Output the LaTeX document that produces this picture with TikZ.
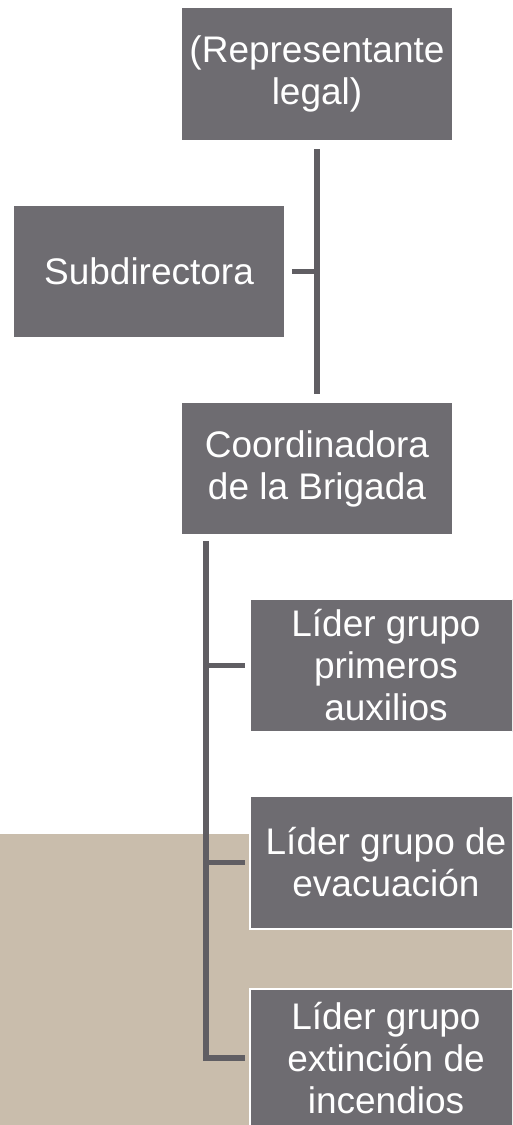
\documentclass[tikz,border=0pt]{standalone}
\usepackage{fontspec}
\setmainfont{Liberation Sans}
\definecolor{boxgray}{RGB}{110,108,113}
\definecolor{linegray}{RGB}{96,94,99}
\definecolor{beigebg}{RGB}{201,189,172}
\begin{document}
\begin{tikzpicture}[x=1pt,y=-1pt,
  orgbox/.style={rectangle, fill=boxgray, draw=white, line width=1.5pt,
    minimum width=272pt, minimum height=133pt, inner sep=0pt,
    align=center, text=white, font=\fontsize{37}{42}\selectfont},
  conn/.style={draw=linegray, line width=5.5pt}]
\useasboundingbox (0,0) rectangle (512,1125);
\clip (0,0) rectangle (512,1125);
\fill[beigebg] (0,834) rectangle (512,1125);

\node[orgbox] (rep) at (317,74) {(Representante\\legal)};
\node[orgbox] (sub) at (149,271.5) {Subdirectora};
\node[orgbox] (coord) at (317,468.5) {Coordinadora\\de la Brigada};
\node[orgbox] (aux) at (386,665.5) {Líder grupo\\primeros\\auxilios};
\node[orgbox] (evac) at (386,862.5) {Líder grupo de\\evacuación};
\node[orgbox, minimum height=138pt] (ext) at (386,1058) {Líder grupo\\extinción de\\incendios};

\draw[conn] ([yshift=-8pt]rep.south) -- ([yshift=7pt]coord.north);
\draw[conn] ([xshift=6pt]sub.east) -- (sub.east -| rep.south);

\coordinate (trunk) at ([xshift=-111pt,yshift=-5pt]coord.south);
\draw[conn] (trunk) |- ([xshift=-4pt]ext.west);
\draw[conn] (trunk |- aux.west) -- ([xshift=-4pt]aux.west);
\draw[conn] (trunk |- evac.west) -- ([xshift=-4pt]evac.west);
\end{tikzpicture}
\end{document}
